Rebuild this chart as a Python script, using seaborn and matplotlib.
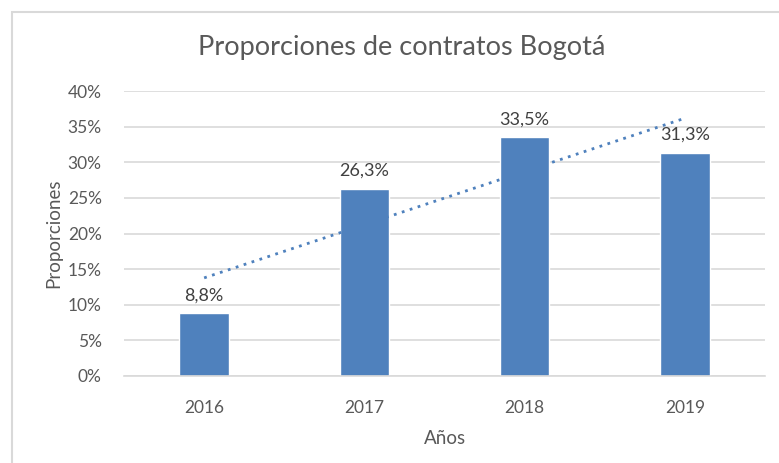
import numpy as np
import pandas as pd
import matplotlib
matplotlib.use('Agg')
import matplotlib.pyplot as plt
import seaborn as sns
from matplotlib.patches import Rectangle
from matplotlib.ticker import PercentFormatter

# datos
anios = ['2016', '2017', '2018', '2019']
proporciones = [0.088, 0.263, 0.335, 0.313]
etiquetas = ['8,8%', '26,3%', '33,5%', '31,3%']

sns.set_theme(style='white')
plt.rcParams['font.family'] = ['Lato', 'DejaVu Sans']

df = pd.DataFrame({'Año': anios, 'Proporcion': proporciones})

fig = plt.figure(figsize=(7.79, 4.63), dpi=100)
# borde del area del grafico
fig.patches.append(Rectangle((12 / 779, -0.1), 1.2, 1 - 12 / 463 + 0.1, transform=fig.transFigure,
                             fill=False, edgecolor='#d9d9d9', linewidth=1.5))

ax = fig.add_axes([124 / 779, 1 - 376 / 463, (765 - 124) / 779, (376 - 91) / 463])
sns.barplot(data=df, x='Año', y='Proporcion', color='#4f81bd', saturation=1, width=0.31, ax=ax)

# linea de tendencia lineal (como en Excel)
xs = np.arange(len(proporciones))
m, b = np.polyfit(xs, proporciones, 1)
ax.plot([xs[0], xs[-1]], [b, m * xs[-1] + b], linestyle=(0, (1, 2)), color='#4f81bd', linewidth=2)

for x, v, t in zip(xs, proporciones, etiquetas):
    ax.text(x, v + 0.014, t, ha='center', va='bottom', fontsize=13, color='#404040')

ax.set_ylim(0, 0.40)
ax.set_xlim(-0.5, 3.5)
ax.set_yticks(np.arange(0, 0.41, 0.05))
ax.yaxis.set_major_formatter(PercentFormatter(1.0, decimals=0))
ax.grid(axis='y', color='#d9d9d9', linewidth=1.2)
ax.set_axisbelow(True)
for s in ['top', 'right', 'left']:
    ax.spines[s].set_visible(False)
ax.spines['bottom'].set_color('#d9d9d9')
ax.spines['bottom'].set_linewidth(1.2)
ax.tick_params(axis='both', length=0, labelsize=12.5, labelcolor='#595959')
ax.tick_params(axis='y', pad=16)
ax.tick_params(axis='x', pad=17)

ax.set_xlabel('Años', fontsize=13.5, color='#595959', labelpad=10)
ax.set_ylabel('Proporciones', fontsize=13.5, color='#595959', labelpad=4)
fig.text(402 / 779, 1 - 48 / 463, 'Proporciones de contratos Bogotá', ha='center', va='center',
         fontsize=19.5, color='#595959')

fig.savefig('out.png', dpi=100)
